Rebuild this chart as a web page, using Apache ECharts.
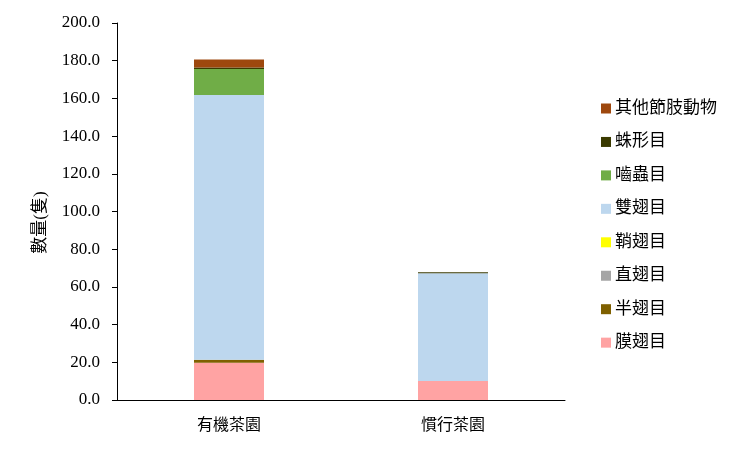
<!DOCTYPE html>
<html><head><meta charset="utf-8">
<script src="https://cdn.jsdelivr.net/npm/echarts@6/dist/echarts.min.js"></script>
<style>html,body{margin:0;padding:0;background:#fff}#c{width:750px;height:449px}</style>
</head><body><div id="c"></div>
<script>
const categories = ['有機茶園', '慣行茶園'];
const seriesNames = ['膜翅目', '半翅目', '直翅目', '鞘翅目', '雙翅目', '嚙蟲目', '蛛形目', '其他節肢動物'];
const hymenoptera = [19.8, 10.1];
const hemiptera = [1.5, 0];
const orthoptera = [0, 0];
const coleoptera = [0, 0];
const diptera = [140.5, 57.1];
const psocoptera = [13.8, 0];
const araneae = [0.8, 0.6];
const otherArthropods = [4.3, 0];
const colors = ['#FFA3A3', '#7F6000', '#A5A5A5', '#FFFF00', '#BDD7EE', '#70AD47', '#3A3A00', '#9E480E'];
const valueSets = [hymenoptera, hemiptera, orthoptera, coleoptera, diptera, psocoptera, araneae, otherArthropods];

const cjk = '"Liberation Serif", "Noto Sans CJK TC", serif';
const chart = echarts.init(document.getElementById('c'), null, {renderer: 'canvas'});
chart.setOption({
  animation: false,
  backgroundColor: '#fff',
  grid: {left: 117, right: 185, top: 23, bottom: 49, containLabel: false},
  legend: {
    orient: 'vertical',
    left: 596, top: 95,
    itemWidth: 10, itemHeight: 10, itemGap: 16.45,
    icon: 'rect',
    data: seriesNames.slice().reverse(),
    textStyle: {fontFamily: cjk, fontSize: 17, color: '#000', padding: [0, 0, 0, -1]}
  },
  xAxis: {
    type: 'category', data: categories,
    axisLine: {lineStyle: {color: '#000', width: 1}},
    axisTick: {inside: true, length: 5, lineStyle: {color: '#000'}},
    axisLabel: {fontFamily: cjk, fontSize: 16, color: '#000', margin: 18}
  },
  yAxis: {
    type: 'value', min: 0, max: 200, interval: 20,
    name: '數量(隻)', nameLocation: 'middle', nameGap: 68, nameRotate: 90,
    nameTextStyle: {fontFamily: cjk, fontSize: 17, color: '#000', padding: [0, 22, 0, 0]},
    axisLine: {show: true, lineStyle: {color: '#000', width: 1}},
    axisTick: {show: true, length: 5, lineStyle: {color: '#000'}},
    splitLine: {show: false},
    axisLabel: {fontFamily: '"Liberation Serif", serif', fontSize: 17, color: '#000', margin: 17,
      formatter: v => v.toFixed(1)}
  },
  series: seriesNames.map((n, i) => ({
    name: n, type: 'bar', stack: 'total', data: valueSets[i],
    barWidth: 70, itemStyle: {color: colors[i]}
  }))
});
</script></body></html>
